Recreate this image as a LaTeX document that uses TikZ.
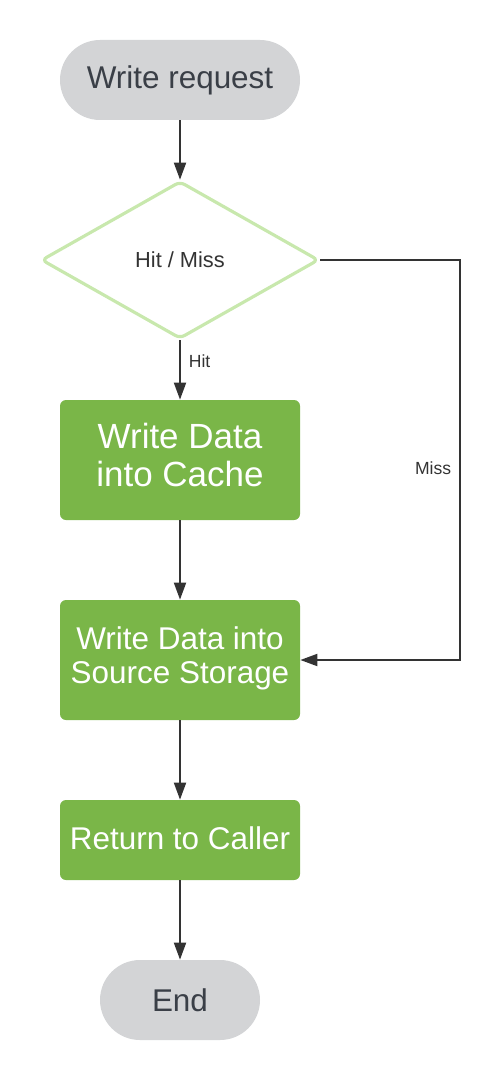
\documentclass[tikz,border=0pt]{standalone}
\usepackage{fontspec}
\setmainfont{Liberation Sans}
\usetikzlibrary{shapes.geometric,arrows.meta}
\definecolor{pillgray}{HTML}{D3D4D6}
\definecolor{inkgray}{HTML}{3A3F47}
\definecolor{boxgreen}{HTML}{7AB648}
\definecolor{palegreen}{HTML}{C8E8AD}
\definecolor{linegray}{HTML}{333333}
\newcommand{\boxlines}[1]{\raisebox{0.08cm}{\begin{tabular}{@{}c@{}}#1\end{tabular}}}
\begin{document}
\begin{tikzpicture}[
  pill/.style={rounded corners=0.8cm,fill=pillgray,text=inkgray,minimum height=1.6cm,inner sep=0pt,font=\fontsize{17.9}{19.3}\selectfont},
  greenbox/.style={rounded corners=0.12cm,fill=boxgreen,text=white,minimum width=4.8cm,inner sep=0pt,align=center,font=\fontsize{17.9}{19.3}\selectfont},
  decision/.style={diamond,draw=palegreen,line width=1.8pt,rounded corners=3pt,fill=white,minimum width=5.55cm,minimum height=3.15cm,inner sep=0pt,text=linegray,font=\fontsize{12.4}{14}\selectfont},
  flow/.style={-{Triangle[length=0.34cm,width=0.24cm]},draw=linegray,line width=1.1pt},
  lbl/.style={text=linegray,font=\fontsize{10}{12}\selectfont}
]
\useasboundingbox (0,0) rectangle (10,-21.6);

\node[pill,minimum width=4.8cm] (start) at (3.6,-1.6) {Write request};
\node[decision] (hitmiss) at (3.6,-5.2) {Hit / Miss};
\node[greenbox,minimum height=2.4cm,font=\fontsize{19.9}{21.6}\selectfont] (cache) at (3.6,-9.2) {\boxlines{Write Data\\into Cache}};
\node[greenbox,minimum height=2.4cm] (source) at (3.6,-13.2) {\boxlines{Write Data into\\Source Storage}};
\node[greenbox,minimum height=1.6cm] (caller) at (3.6,-16.8) {\raisebox{0.06cm}{Return to Caller}};
\node[pill,minimum width=3.2cm] (stop) at (3.6,-20) {End};
\coordinate (missturn) at (9.2,-13.2);

\draw[flow] (start.south)--(hitmiss.north);
\draw[flow] (hitmiss.south)-- node[lbl,right,pos=0.35,xshift=0.04cm] {Hit} (cache.north);
\draw[flow] (cache.south)--(source.north);
\draw[flow] (source.south)--(caller.north);
\draw[flow] (caller.south)--(stop.north);
\draw[flow] (hitmiss.east) -| node[lbl,left,pos=0.76,xshift=-0.04cm] {Miss} (missturn) -- (source.east);
\end{tikzpicture}
\end{document}
